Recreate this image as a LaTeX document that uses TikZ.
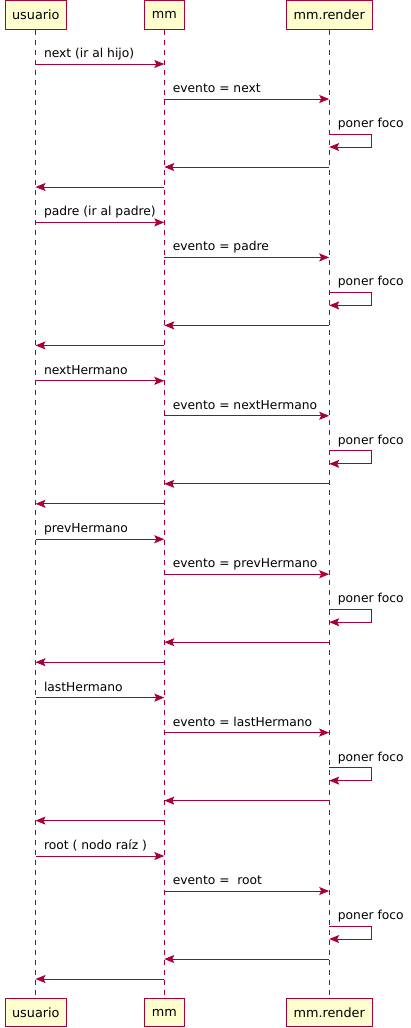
\documentclass[tikz,border=0pt]{standalone}
\usepackage{fontspec}
\setmainfont{DejaVu Sans}
\usetikzlibrary{arrows.meta}
\definecolor{pred}{HTML}{A80036}
\definecolor{pfill}{HTML}{FEFECE}
\tikzset{
  part/.style={draw=pred, fill=pfill, line width=1pt, rectangle, inner sep=0pt,
    minimum height=28.5pt, font=\fontsize{12.8}{14}\selectfont},
  life/.style={draw=pred, line width=1pt, dash pattern=on 5pt off 5pt},
  msg/.style={draw=pred, line width=1pt, -{Stealth[length=10pt,width=8pt,inset=2pt]}},
  lbl/.style={anchor=base west, inner sep=0pt, font=\fontsize{12.3}{14}\selectfont, text=black},
}
\begin{document}
\begin{tikzpicture}[x=1pt,y=-1pt]
\useasboundingbox (0,0) rectangle (411,1028);
% participants
\node[part, minimum width=61.5pt] (u)  at (35.8,15) {usuario};
\node[part, minimum width=40pt]   (m)  at (164.3,15) {mm};
\node[part, minimum width=86pt]   (r)  at (329.2,15) {mm.render};
\node[part, minimum width=61.5pt] (ub) at (35.8,1012.5) {usuario};
\node[part, minimum width=40pt]   (mb) at (164.3,1012.5) {mm};
\node[part, minimum width=86pt]   (rb) at (329.2,1012.5) {mm.render};
% lifelines
\draw[life] (u.south) -- (ub.north);
\draw[life] (m.south) -- (mb.north);
\draw[life] (r.south) -- (rb.north);
% message groups
\foreach \i/\la/\lb in {0/{next (ir al hijo)}/{evento = next},
                        1/{padre (ir al padre)}/{evento = padre},
                        2/{nextHermano}/{evento = nextHermano},
                        3/{prevHermano}/{evento = prevHermano},
                        4/{lastHermano}/{evento = lastHermano},
                        5/{root ( nodo raíz )}/{evento = \ root}}{
  \pgfmathsetmacro\y{64+158.4*\i}
  \coordinate (ua\i) at (35.5,\y);
  \coordinate (ma\i) at (164.3,\y);
  \coordinate (mb\i) at (164.3,\y+35);
  \coordinate (rb\i) at (329.2,\y+35);
  \coordinate (rc\i) at (329.2,\y+70);
  \coordinate (rd\i) at (329.2,\y+83);
  \coordinate (lp\i) at (371.5,\y+70);
  \coordinate (re\i) at (329.2,\y+103);
  \coordinate (me\i) at (164.3,\y+103);
  \coordinate (mf\i) at (164.3,\y+123);
  \coordinate (uf\i) at (35.5,\y+123);
  \draw[msg] (ua\i) -- (ma\i) node[lbl, pos=0, xshift=8pt, yshift=6.5pt] {\la};
  \draw[msg] (mb\i) -- (rb\i) node[lbl, pos=0, xshift=8pt, yshift=6.5pt] {\lb};
  \draw[msg] (rc\i) -- (lp\i) |- (rd\i);
  \node[lbl, xshift=8.5pt, yshift=6.5pt] at (rc\i) {poner foco};
  \draw[msg] (re\i) -- (me\i);
  \draw[msg] (mf\i) -- (uf\i);
}
\end{tikzpicture}
\end{document}
